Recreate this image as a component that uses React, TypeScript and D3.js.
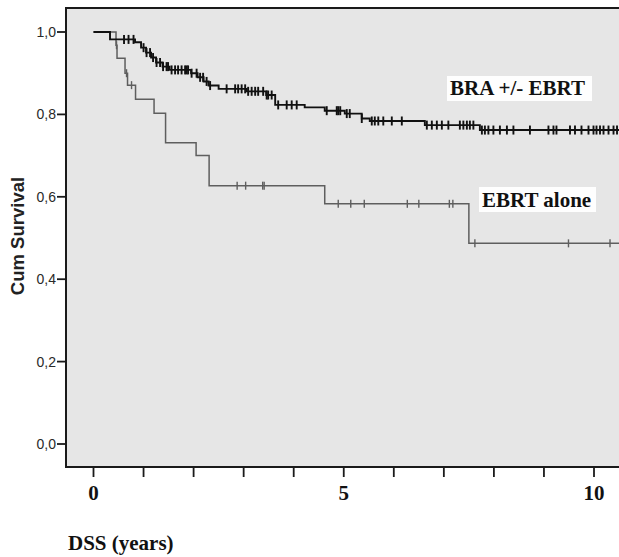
import React from "react";
import * as d3 from "d3";

// Kaplan-Meier steps: [time (years), cum survival after the drop]
const braSteps: [number, number][] = [
  [0, 1.0], [0.33, 0.982], [0.83, 0.975], [0.95, 0.962], [1.05, 0.95],
  [1.15, 0.938], [1.25, 0.926], [1.38, 0.916], [1.52, 0.908], [1.95, 0.9],
  [2.08, 0.89], [2.2, 0.88], [2.3, 0.87], [2.5, 0.862], [3.06, 0.856],
  [3.45, 0.847], [3.63, 0.823], [4.22, 0.817], [4.62, 0.809], [5.02, 0.802],
  [5.36, 0.79], [5.52, 0.784], [6.62, 0.774], [7.72, 0.762]
];
const braCensored = [
  0.61, 0.7, 0.8, 1.0, 1.06, 1.13, 1.19, 1.26, 1.33, 1.39, 1.46, 1.49, 1.56,
  1.63, 1.69, 1.76, 1.83, 1.86, 1.89, 1.96, 2.06, 2.13, 2.19, 2.26, 2.33,
  2.66, 2.83, 2.89, 2.96, 3.03, 3.09, 3.16, 3.23, 3.29, 3.39, 3.46, 3.49,
  3.56, 3.69, 3.86, 3.96, 4.06, 4.66, 4.86, 4.89, 4.93, 5.06, 5.12, 5.36,
  5.56, 5.62, 5.69, 5.79, 5.96, 6.16, 6.66, 6.76, 6.86, 6.96, 7.09, 7.32,
  7.39, 7.46, 7.52, 7.59, 7.76, 7.82, 7.89, 7.99, 8.12, 8.26, 8.39, 8.72,
  9.09, 9.19, 9.25, 9.52, 9.62, 9.75, 9.89, 9.99, 10.05, 10.12, 10.19,
  10.29, 10.39, 10.46
];

const ebrtSteps: [number, number][] = [
  [0, 1.0], [0.45, 0.968], [0.47, 0.936], [0.63, 0.9], [0.68, 0.871],
  [0.84, 0.837], [1.21, 0.803], [1.44, 0.731], [2.05, 0.7], [2.31, 0.627],
  [4.62, 0.583], [7.5, 0.487]
];
const ebrtCensored = [
  0.46, 0.66, 0.76, 2.87, 3.04, 3.38, 3.41, 4.89, 5.14, 5.41, 6.27, 6.5,
  7.11, 7.18, 7.62, 9.49, 10.32
];

const yTicks = [0, 0.2, 0.4, 0.6, 0.8, 1.0];
const xTicks = d3.range(0, 11);
const xLabels = [0, 5, 10];
const tEnd = 10.8;

const W = 619;
const H = 557;
const frame = { left: 66, top: 8, right: 630, bottom: 467 };

const x = d3.scaleLinear().domain([0, 10]).range([93.5, 594]);
const y = d3.scaleLinear().domain([0, 1]).range([444, 32]);

const stepLine = d3
  .line<[number, number]>()
  .x(d => x(d[0]))
  .y(d => y(d[1]))
  .curve(d3.curveStepAfter);

const bis = d3.bisector((d: [number, number]) => d[0]).right;
function survAt(steps: [number, number][], t: number) {
  return steps[Math.max(0, bis(steps, t) - 1)][1];
}

function Curve({ steps, censored, color, width, mark, markWidth }: any) {
  const pts: [number, number][] = [...steps, [tEnd, steps[steps.length - 1][1]]];
  return (
    <g>
      <path d={stepLine(pts) || ""} fill="none" stroke={color} strokeWidth={width} />
      {censored.map((t: number, i: number) => {
        const cx = x(t);
        const cy = y(survAt(steps, t));
        return (
          <line key={i} x1={cx} x2={cx} y1={cy - mark} y2={cy + mark}
            stroke={color} strokeWidth={markWidth} />
        );
      })}
    </g>
  );
}

export default function App() {
  const serif = "'Liberation Serif', 'Times New Roman', serif";
  const sans = "'Liberation Sans', Arial, sans-serif";
  return (
    <svg width={W} height={H} style={{ position: "absolute", left: 0, top: 0, background: "#fff" }}>
      <defs>
        <clipPath id="plotClip">
          <rect x={frame.left} y={frame.top} width={frame.right - frame.left} height={frame.bottom - frame.top} />
        </clipPath>
      </defs>
      <rect x={frame.left} y={frame.top} width={frame.right - frame.left}
        height={frame.bottom - frame.top} fill="#e6e6e6" stroke="#1a1a1a" strokeWidth={2} />

      <g clipPath="url(#plotClip)">
        <Curve steps={ebrtSteps} censored={ebrtCensored} color="#5e5e5e" width={1.5} mark={4} markWidth={1.4} />
        <Curve steps={braSteps} censored={braCensored} color="#111" width={1.9} mark={4.5} markWidth={1.9} />
      </g>

      {/* curve labels */}
      <rect x={447} y={76} width={145} height={25} fill="#fefefe" />
      <text x={450} y={95} fontFamily={serif} fontWeight="bold" fontSize={21} fill="#111">BRA +/- EBRT</text>
      <rect x={479} y={187} width={117} height={25} fill="#fefefe" />
      <text x={482} y={206.5} fontFamily={serif} fontWeight="bold" fontSize={21} fill="#111">EBRT alone</text>

      {/* y axis */}
      {yTicks.map(v => (
        <g key={v}>
          <line x1={57} x2={frame.left} y1={y(v)} y2={y(v)} stroke="#1a1a1a" strokeWidth={1.8} />
          <text x={56} y={y(v)} dy="0.35em" textAnchor="end" fontFamily={sans}
            fontSize={14} fill="#2a2a2a">{v.toFixed(1).replace(".", ",")}</text>
        </g>
      ))}
      <text transform={`translate(24, 236) rotate(-90)`} textAnchor="middle"
        fontFamily={sans} fontWeight="bold" fontSize={18.5} fill="#222">Cum Survival</text>

      {/* x axis */}
      {xTicks.map(v => (
        <line key={v} x1={x(v)} x2={x(v)} y1={frame.bottom} y2={frame.bottom + 10}
          stroke="#1a1a1a" strokeWidth={1.8} />
      ))}
      {xLabels.map(v => (
        <text key={v} x={x(v)} y={500} textAnchor="middle" fontFamily={serif}
          fontWeight="bold" fontSize={21} fill="#111">{v}</text>
      ))}
      <text x={68} y={550} fontFamily={serif} fontWeight="bold" fontSize={21} fill="#111">DSS (years)</text>
    </svg>
  );
}
